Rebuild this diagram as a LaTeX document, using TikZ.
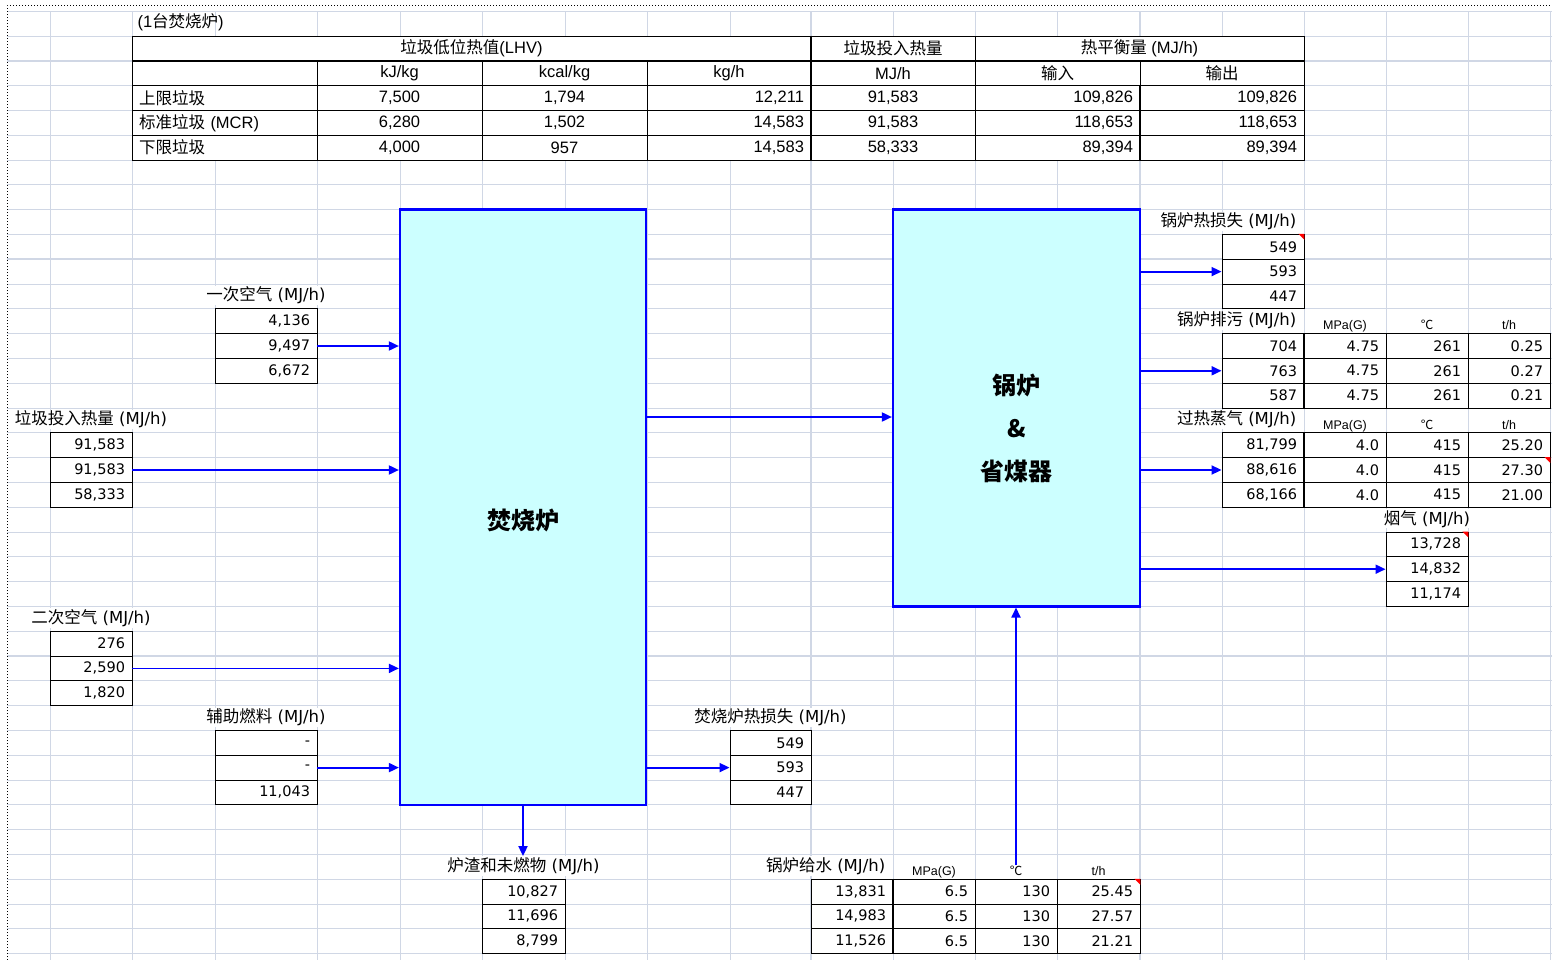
\documentclass[tikz,border=0pt]{standalone}
\usepackage{fontspec}
\setmainfont{DejaVu Sans}
\newfontfamily\cjk{Noto Sans CJK SC}
\newfontfamily\narrow{Liberation Sans}
\usetikzlibrary{arrows.meta,calc,positioning}
\definecolor{Grid}{HTML}{D0D7E5}
\definecolor{Cyan}{HTML}{CCFFFF}
\definecolor{Flow}{HTML}{0000FF}
\newcommand{\zh}[1]{{\cjk #1}}
\newcommand{\numfont}{\fontsize{14.5}{17}\selectfont}
\newcommand{\lblfont}{\fontsize{16.5}{19}\selectfont}
\newcommand{\tabfont}{\narrow\fontsize{16.5}{19}\selectfont}
\newcommand{\headfont}{\narrow\fontsize{12.5}{14}\selectfont}
\newcommand{\unitfont}{\cjk\bfseries\fontsize{24}{43}\selectfont}
% three cells under each other: style, name, left x, top y, width, values
\newcommand{\valcol}[6][cell]{%
  \pgfmathsetmacro\tw{#5-14}
  \foreach \v [count=\i] in {#6}
    \node[#1,text width=\tw pt] (#2\i) at ({#3+#5/2},{#4+(\i-0.5)*24.8}) {\v};
}

\begin{document}
\begin{tikzpicture}[x=1pt,y=-1pt,
    gridline/.style={draw=Grid,line width=0.9pt},
    cell/.style={draw=black,line width=0.9pt,fill=white,minimum height=24.8pt,inner ysep=0pt,inner xsep=7pt,align=right,font=\numfont},
    tcell/.style={cell,font=\tabfont},
    tmid/.style={tcell,align=center},
    tname/.style={tcell,align=left},
    thead/.style={draw=black,line width=0.9pt,fill=white,minimum height=24.8pt,inner sep=0pt,font=\tabfont},
    lbl/.style={fill=white,inner sep=1pt,font=\lblfont},
    colhead/.style={inner sep=1pt,text height=9pt,text depth=2pt,font=\headfont},
    unit/.style={draw=Flow,line width=2.2pt,fill=Cyan,inner sep=0pt},
    unittext/.style={font=\unitfont,align=center},
    flow/.style={draw=Flow,line width=1.8pt,-{Triangle[length=10pt,width=9pt]}}]
  \useasboundingbox (0,0) rectangle (1552,960);
  % sheet grid
  \foreach \x in {50,132,215,317,400,482,565,647,730,811,893,975,1057,1140,1222,1304,1386,1468,1550}
    \draw[gridline] (\x,11.2) -- (\x,960);
  \foreach \k in {-1,...,37}
    \draw[gridline] (7,{36+24.8*\k}) -- (1552,{36+24.8*\k});
  \foreach \x in {811,1140} \draw[gridline,line width=1.6pt] (\x,11.2) -- (\x,960);
  \foreach \y in {60.8,259.2,656} \draw[gridline,line width=1.6pt] (7,\y) -- (1552,\y);
  \draw[dotted,line width=1pt] (7,960) -- (7,6) -- (1552,6);

  % summary table
  \node[anchor=west,font=\tabfont] (title) at (134,22) {(1\zh{台焚烧炉})};
  \node[thead,minimum width=679pt] (lhv) at (471.5,48.4) {\zh{垃圾低位热值}(LHV)};
  \node[thead,minimum width=164pt] (inheat) at (893,48.4) {\zh{垃圾投入热量}};
  \node[thead,minimum width=329pt] (balance) at (1139.5,48.4) {\zh{热平衡量} (MJ/h)};
  \node[thead,minimum width=185pt] (ublank) at (224.5,73.2) {};
  \node[thead,minimum width=165pt] (ukj) at (399.5,73.2) {kJ/kg};
  \node[thead,minimum width=165pt] (ukcal) at (564.5,73.2) {kcal/kg};
  \node[thead,minimum width=164pt] (ukgh) at (729,73.2) {kg/h};
  \node[thead,minimum width=164pt] (umjh) at (893,73.2) {MJ/h};
  \node[thead,minimum width=165pt] (uin) at (1057.5,73.2) {\zh{输入}};
  \node[thead,minimum width=164pt] (uout) at (1222,73.2) {\zh{输出}};
  \valcol[tname]{kind}{132}{85.6}{185}{\zh{上限垃圾},\zh{标准垃圾} (MCR),\zh{下限垃圾}}
  \valcol[tmid]{kj}{317}{85.6}{165}{{7,500},{6,280},{4,000}}
  \valcol[tmid]{kcal}{482}{85.6}{165}{{1,794},{1,502},957}
  \valcol[tcell]{kgh}{647}{85.6}{164}{{12,211},{14,583},{14,583}}
  \valcol[tmid]{mjh}{811}{85.6}{164}{{91,583},{91,583},{58,333}}
  \valcol[tcell]{hin}{975}{85.6}{165}{{109,826},{118,653},{89,394}}
  \valcol[tcell]{hout}{1140}{85.6}{164}{{109,826},{118,653},{89,394}}
  \draw[line width=2pt] (lhv.south west) -- (balance.south east);
  \draw[line width=2pt] (inheat.north west) -- (mjh3.south west);
  \draw[line width=2pt] (hin1.north east) -- (hin3.south east);

  % units
  \node[unit,minimum width=246pt,minimum height=595.2pt] (furnace) at (523,507.2) {};
  \node[unit,minimum width=247pt,minimum height=396.8pt] (boiler) at (1016.5,408) {};
  \node[unittext] (furnacelbl) at ([yshift=-13pt]furnace.center) {焚烧炉};
  \node[unittext] (boilerlbl) at ([yshift=-20pt]boiler.center) {锅炉\\\&\\省煤器};

  % value boxes
  \valcol{pa}{215}{308.8}{102}{{4,136},{9,497},{6,672}}
  \valcol{wst}{50}{432.8}{82}{{91,583},{91,583},{58,333}}
  \valcol{sa}{50}{631.2}{82}{276,{2,590},{1,820}}
  \valcol{aux}{215}{730.4}{102}{-,-,{11,043}}
  \valcol{fhl}{730}{730.4}{81}{549,593,447}
  \valcol{slag}{482}{879.2}{83}{{10,827},{11,696},{8,799}}
  \valcol{fw}{811}{879.2}{82}{{13,831},{14,983},{11,526}}
  \valcol{fwp}{893}{879.2}{82}{6.5,6.5,6.5}
  \valcol{fwt}{975}{879.2}{82}{130,130,130}
  \valcol{fwf}{1057}{879.2}{83}{25.45,27.57,21.21}
  \valcol{bhl}{1222}{234.4}{82}{549,593,447}
  \valcol{bd}{1222}{333.6}{82}{704,763,587}
  \valcol{bdp}{1304}{333.6}{82}{4.75,4.75,4.75}
  \valcol{bdt}{1386}{333.6}{82}{261,261,261}
  \valcol{bdf}{1468}{333.6}{82}{0.25,0.27,0.21}
  \valcol{ss}{1222}{432.8}{82}{{81,799},{88,616},{68,166}}
  \valcol{ssp}{1304}{432.8}{82}{4.0,4.0,4.0}
  \valcol{sst}{1386}{432.8}{82}{415,415,415}
  \valcol{ssf}{1468}{432.8}{82}{25.20,27.30,21.00}
  \valcol{fg}{1386}{532}{82}{{13,728},{14,832},{11,174}}
  \foreach \b in {fw,bd,ss} \draw[line width=2pt] (\b1.north east) -- (\b3.south east);
  \foreach \c in {bhl1,ssf2,fg1,fwf1} \fill[red] (\c.north east) -- ++(-6,0) -- ++(6,6) -- cycle;

  % labels
  \node[lbl,above=3pt of pa1] (palbl) {\zh{一次空气} (MJ/h)};
  \node[lbl,above=3pt of wst1] (wstlbl) {\zh{垃圾投入热量} (MJ/h)};
  \node[lbl,above=3pt of sa1] (salbl) {\zh{二次空气} (MJ/h)};
  \node[lbl,above=3pt of aux1] (auxlbl) {\zh{辅助燃料} (MJ/h)};
  \node[lbl,above=3pt of fhl1] (fhllbl) {\zh{焚烧炉热损失} (MJ/h)};
  \node[lbl,above=3pt of slag1] (slaglbl) {\zh{炉渣和未燃物} (MJ/h)};
  \node[lbl,above=3pt of fg1] (fglbl) {\zh{烟气} (MJ/h)};
  \node[lbl,anchor=south east] (fwlbl) at ([xshift=-7pt,yshift=3pt]fw1.north east) {\zh{锅炉给水} (MJ/h)};
  \node[lbl,anchor=south east] (bhllbl) at ([xshift=-7pt,yshift=3pt]bhl1.north east) {\zh{锅炉热损失} (MJ/h)};
  \node[lbl,anchor=south east] (bdlbl) at ([xshift=-7pt,yshift=3pt]bd1.north east) {\zh{锅炉排污} (MJ/h)};
  \node[lbl,anchor=south east] (sslbl) at ([xshift=-7pt,yshift=3pt]ss1.north east) {\zh{过热蒸气} (MJ/h)};
  \foreach \b in {fw,bd,ss} {
    \node[colhead,above=0pt of \b p1] (\b phead) {MPa(G)};
    \node[colhead,above=0pt of \b t1] (\b thead) {\zh{℃}};
    \node[colhead,above=0pt of \b f1] (\b fhead) {t/h};
  }

  % flows
  \foreach \s in {pa2,wst2,sa2,aux2} \draw[flow] (\s.east) -- (\s.east -| furnace.west);
  \draw[flow] (furnace.east |- fhl2.west) -- (fhl2.west);
  \draw[flow] (furnace.south) -- (furnace.south |- slaglbl.north);
  \coordinate (fb) at ([yshift=-9pt]boiler.west);
  \draw[flow] (furnace.east |- fb) -- (fb);
  \foreach \t in {bhl2,bd2,ss2,fg2} \draw[flow] (boiler.east |- \t.west) -- (\t.west);
  \draw[flow] (fwthead.north) -- (fwthead.north |- boiler.south);
\end{tikzpicture}
\end{document}
